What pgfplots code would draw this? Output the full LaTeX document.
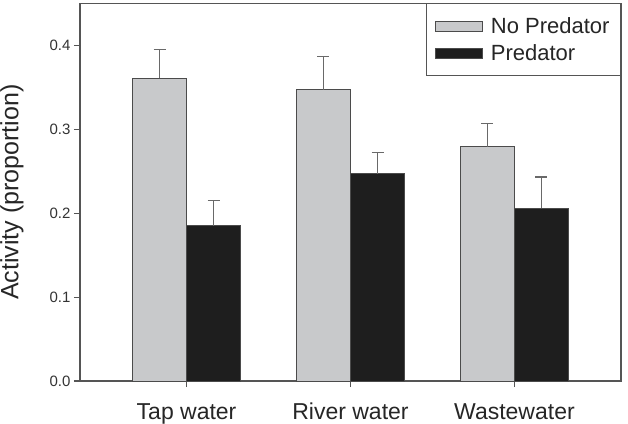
\documentclass[border=0pt]{standalone}
\usepackage{fontspec}
\setmainfont{Liberation Sans}
\usepackage{pgfplots}
\pgfplotsset{compat=1.18}
\definecolor{barGray}{RGB}{200,201,203}
\definecolor{barBlack}{RGB}{30,30,30}
\definecolor{edgec}{RGB}{75,75,75}
\definecolor{errc}{RGB}{105,105,105}
\definecolor{axc}{RGB}{85,85,85}
\begin{document}
\begin{tikzpicture}
\begin{axis}[
  scale only axis, width=541pt, height=377.7pt,
  at={(0,0)}, anchor=south west,
  xmin=-0.65, xmax=2.65, ymin=0, ymax=0.45,
  ybar=0pt, bar width=0.33,
  axis line style={draw=axc, line width=1.1pt},
  tick style={draw=axc, line width=1.1pt},
  tick align=outside, major tick length=6pt,
  xtick pos=bottom, ytick pos=left,
  xtick={0,1,2}, xticklabels={Tap water, River water, Wastewater},
  ytick={0,0.1,0.2,0.3,0.4},
  x tick label style={font=\fontsize{23}{23}\selectfont, text=black!85, anchor=base, inner sep=0pt, yshift=-32.5pt},
  y tick label style={font=\fontsize{15}{15}\selectfont, text=black!80,
    /pgf/number format/.cd, fixed, fixed zerofill, precision=1, assume math mode=true},
  ylabel={Activity (proportion)},
  ylabel style={at={(axis description cs:-0.1257,0.5)}, anchor=center, font=\fontsize{25}{25}\selectfont, text=black!85},
  legend cell align=left,
  legend style={at={(1,1)}, anchor=north east, draw=axc, line width=1pt,
    font=\fontsize{22}{22}\selectfont, text=black!85,
    inner xsep=9pt, inner ysep=12pt, row sep=5pt,
    /tikz/every odd column/.append style={column sep=6pt}},
  legend image code/.code={\draw[#1, line width=0.8pt] (0pt,-5pt) rectangle (47pt,5pt);},
]
\addplot[fill=barGray, draw=edgec, line width=1pt,
  error bars/.cd, y dir=plus, y explicit,
  error bar style={draw=errc, line width=1pt},
  error mark options={rotate=90, draw=errc, line width=1.3pt, mark size=6pt}]
  table[x=x, y=y, y error=e] {
x y e
0 0.361 0.034
1 0.347 0.040
2 0.279 0.028
};
\addplot[fill=barBlack, draw=edgec, line width=1pt,
  error bars/.cd, y dir=plus, y explicit,
  error bar style={draw=errc, line width=1pt},
  error mark options={rotate=90, draw=errc, line width=1.3pt, mark size=6pt}]
  table[x=x, y=y, y error=e] {
x y e
0 0.185 0.030
1 0.247 0.025
2 0.206 0.037
};
\legend{No Predator, Predator}
\end{axis}
\pgfresetboundingbox
\path[use as bounding box] (-80pt,-42pt) rectangle (548pt,381pt);
\end{tikzpicture}
\end{document}
